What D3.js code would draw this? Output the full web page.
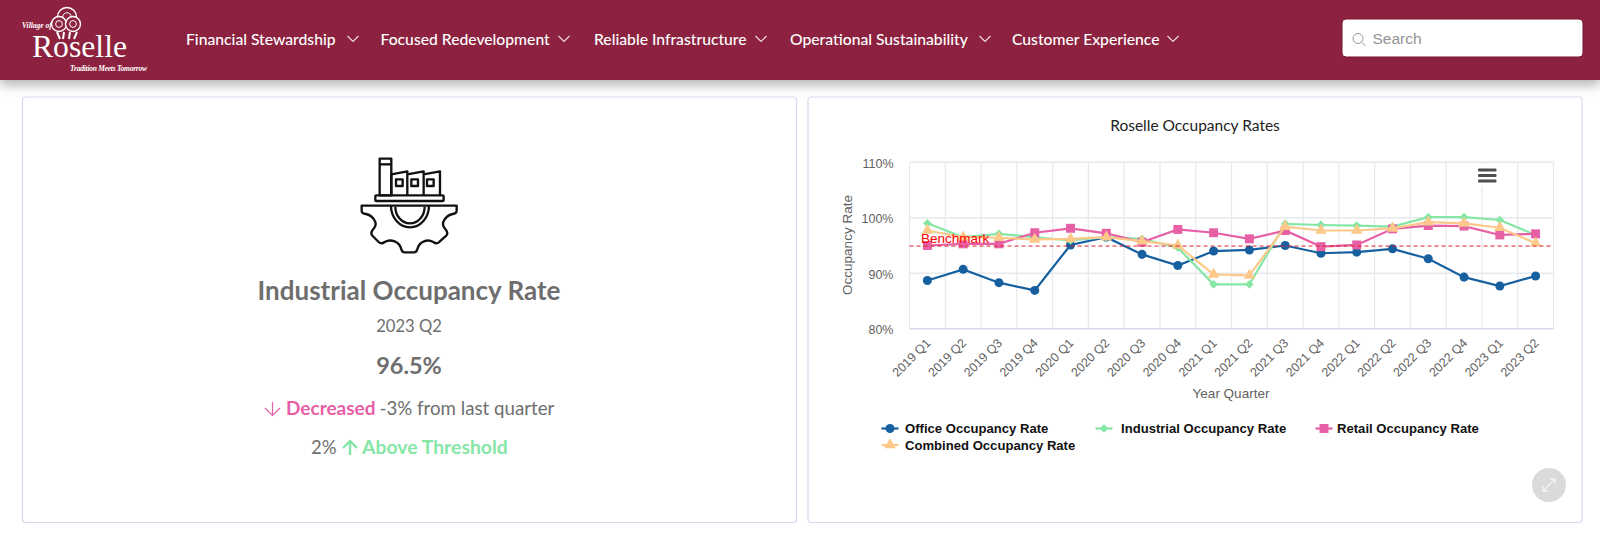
<!DOCTYPE html>
<html>
<head>
<meta charset="utf-8">
<script src="https://cdnjs.cloudflare.com/ajax/libs/d3/7.8.5/d3.min.js"></script>
<style>
  html, body { margin: 0; padding: 0; background: #fff; overflow: hidden; }
  svg { display: block; }
  .domain { display: none; }
</style>
</head>
<body>
<svg id="page" width="1600" height="535"></svg>
<script>
// chart data
const quarters = ["2019 Q1","2019 Q2","2019 Q3","2019 Q4","2020 Q1","2020 Q2","2020 Q3","2020 Q4","2021 Q1","2021 Q2","2021 Q3","2021 Q4","2022 Q1","2022 Q2","2022 Q3","2022 Q4","2023 Q1","2023 Q2"];
const office = [88.7,90.7,88.3,86.9,95.1,96.5,93.4,91.4,94.0,94.2,95.0,93.6,93.8,94.4,92.6,89.3,87.7,89.5];
const industrial = [99.0,96.5,97.1,96.5,95.9,96.5,96.2,94.6,88.0,88.0,98.9,98.7,98.6,98.4,100.1,100.1,99.6,96.9];
const retail = [95.0,95.3,95.3,97.3,98.1,97.2,95.6,97.9,97.3,96.2,97.7,94.8,95.1,98.0,98.6,98.5,96.9,97.1];
const combined = [97.7,96.5,96.4,96.1,96.2,96.5,95.8,95.0,89.8,89.6,98.4,97.7,97.7,98.1,99.2,99.0,98.2,95.4];
const benchmark = 94.9;
const yTicks = [80,90,100,110];
const seriesNames = ["Office Occupancy Rate","Industrial Occupancy Rate","Retail Occupancy Rate","Combined Occupancy Rate"];
const seriesColors = ["#17609f","#86e6a6","#e75fa5","#fdc98a"];
const navItems = ["Financial Stewardship","Focused Redevelopment","Reliable Infrastructure","Operational Sustainability","Customer Experience"];

const allSeries = [office, industrial, retail, combined];
const symbolTypes = [d3.symbolCircle, d3.symbolSquare, d3.symbolSquare, d3.symbolTriangle];
const symbolSizes = [64, 38, 80, 58];
const symbolTurn = [0, 45, 0, 0]; // the diamond is a turned square

const svg = d3.select("#page");
const uiFont = "Lato, 'Noto Sans', sans-serif";
const chartFont = "'Liberation Sans', Arial, sans-serif";
const grey = "#6e6e6e";

// header
const defs = svg.append("defs");
const shadow = defs.append("filter").attr("id","shadow").attr("x","-5%").attr("y","-20%").attr("width","110%").attr("height","160%");
shadow.append("feDropShadow").attr("dx",0).attr("dy",5).attr("stdDeviation",6).attr("flood-color","#000").attr("flood-opacity",0.3);

svg.append("rect").attr("x",0).attr("y",0).attr("width",1600).attr("height",80).attr("fill","#8c2341").attr("filter","url(#shadow)");

// logo
const logo = svg.append("g").attr("fill","#fff");
[[67,17,9.5],[59,24,7.5],[73,24,7.5]].forEach(c => {
  logo.append("circle").attr("cx",c[0]).attr("cy",c[1]).attr("r",c[2]).attr("fill","#8c2341").attr("stroke","#fff").attr("stroke-width",1.4);
  logo.append("circle").attr("cx",c[0]).attr("cy",c[1]).attr("r",c[2]*0.45).attr("fill","none").attr("stroke","#fff").attr("stroke-width",1);
});
logo.append("path").attr("d","M57,32 L60,39 M64,32 L63,39 M70,32 L69,39 M77,32 L74,39").attr("stroke","#fff").attr("stroke-width",2);
logo.append("text").attr("x",22).attr("y",28).attr("font-family","'Liberation Serif'").attr("font-style","italic").attr("font-weight","bold").attr("font-size",7.5).text("Village of");
logo.append("text").attr("x",32).attr("y",57).attr("font-family","'Liberation Serif'").attr("font-size",32).attr("textLength",95).attr("lengthAdjust","spacingAndGlyphs").text("Roselle");
logo.append("text").attr("x",70).attr("y",70.5).attr("font-family","'Liberation Serif'").attr("font-style","italic").attr("font-weight","bold").attr("font-size",7.5).attr("textLength",77).text("Tradition Meets Tomorrow");

// nav
const navX = [186,380.5,594,790,1012];
const chevX = [353,564,761,985,1173];
navItems.forEach((name,i) => {
  svg.append("text").attr("x",navX[i]).attr("y",44.5).attr("fill","#fff").attr("font-family",uiFont).attr("font-size",15.7).attr("font-weight",500).text(name);
  svg.append("path").attr("d",`M${chevX[i]-5.5},36 L${chevX[i]},41.5 L${chevX[i]+5.5},36`).attr("fill","none").attr("stroke","#f0dfe4").attr("stroke-width",1.1);
});

// search box
svg.append("rect").attr("x",1342).attr("y",19).attr("width",241).attr("height",38).attr("rx",4).attr("fill","#fff").attr("stroke","#7a1530").attr("stroke-width",1);
svg.append("circle").attr("cx",1358).attr("cy",38.5).attr("r",5).attr("fill","none").attr("stroke","#999");
svg.append("path").attr("d","M1362,42.5 L1365.5,46").attr("stroke","#999");
svg.append("text").attr("x",1372.5).attr("y",43.5).attr("fill","#949494").attr("font-family",chartFont).attr("font-size",15.5).text("Search");

// cards
[[22.5,774],[808,774]].forEach(c => {
  svg.append("rect").attr("x",c[0]).attr("y",97).attr("width",c[1]).attr("height",425.5).attr("rx",3).attr("fill","#fff").attr("stroke","#d5d9ee").attr("stroke-width",1.2);
});

// factory icon
const icon = svg.append("g").attr("transform","translate(230,140) scale(0.3333)").attr("fill","none").attr("stroke","#111").attr("stroke-width",7).attr("stroke-linejoin","round");
icon.append("rect").attr("x",449).attr("y",56).attr("width",35).attr("height",110);
icon.append("path").attr("d","M449,73 H484");
icon.append("path").attr("d","M484,166 V103 L532,94 V166 M532,103 L581,94 V166 M581,103 L630,94 V166");
[498,544,591].forEach(x => icon.append("rect").attr("x",x).attr("y",118).attr("width",20).attr("height",20));
icon.append("rect").attr("x",436).attr("y",166).attr("width",205).attr("height",17).attr("rx",3);
icon.append("path").attr("d","M395,197 H680 V212 Q680,220 668,222 Q648,226 640,246 Q636,258 648,270 Q656,280 648,288 L628,306 Q620,314 610,306 Q596,298 582,304 Q566,310 562,328 Q560,337 552,337 H524 Q516,337 514,328 Q510,310 494,304 Q478,298 464,306 Q454,314 446,306 L428,288 Q420,280 428,270 Q440,258 436,246 Q428,226 408,222 Q395,220 395,212 Z");
icon.append("path").attr("d","M483,197 A57,65 0 0 0 597,197 M496,200 A44,50 0 0 0 584,200");

// kpi text
const kpi = svg.append("g").attr("font-family",uiFont).attr("fill",grey);
kpi.append("text").attr("x",409).attr("y",300).attr("text-anchor","middle").attr("font-size",26).attr("font-weight",700).text("Industrial Occupancy Rate");
kpi.append("text").attr("x",409).attr("y",331.5).attr("text-anchor","middle").attr("font-size",16.6).text("2023 Q2");
kpi.append("text").attr("x",409).attr("y",374).attr("text-anchor","middle").attr("font-size",23.5).attr("font-weight",700).text("96.5%");
kpi.append("path").attr("d","M272.5,402 V415 M265,408 L272.5,415.5 L280,408").attr("fill","none").attr("stroke",seriesColors[2]).attr("stroke-width",1.2);
kpi.append("text").attr("x",286).attr("y",415).attr("font-size",19).attr("font-weight",700).attr("fill",seriesColors[2]).text("Decreased");
kpi.append("text").attr("x",379.5).attr("y",415).attr("font-size",18.7).text("-3% from last quarter");
kpi.append("text").attr("x",311).attr("y",454).attr("font-size",18.5).text("2%");
kpi.append("path").attr("d","M350,441 V455 M343,448 L350,441 L357,448").attr("fill","none").attr("stroke",seriesColors[1]).attr("stroke-width",2.4);
kpi.append("text").attr("x",362).attr("y",454).attr("font-size",19.4).attr("font-weight",700).attr("fill",seriesColors[1]).text("Above Threshold");

// chart
svg.append("text").attr("x",1195).attr("y",131).attr("text-anchor","middle").attr("font-family",uiFont).attr("font-size",15.5).attr("fill","#222").text("Roselle Occupancy Rates");

const x = d3.scaleBand().domain(quarters).range([909.5,1553.5]);
const y = d3.scaleLinear().domain([80,110]).range([328.7,162.3]);

const plot = svg.append("g");

// grid
plot.append("g").selectAll("line").data(yTicks).join("line")
  .attr("x1",x.range()[0]).attr("x2",x.range()[1])
  .attr("y1",d => y(d)).attr("y2",d => y(d))
  .attr("stroke",d => d == 80 ? "#d5d9ee" : "#e8e9ee").attr("stroke-width",1.4);
plot.append("g").selectAll("line").data(quarters.concat("end")).join("line")
  .attr("x1",(d,i) => x.range()[0] + i*x.bandwidth()).attr("x2",(d,i) => x.range()[0] + i*x.bandwidth())
  .attr("y1",y(110)).attr("y2",y(80))
  .attr("stroke","#e8e9ee").attr("stroke-width",1.2);

// axes
const yAxis = plot.append("g").attr("transform",`translate(${x.range()[0]},1)`)
  .call(d3.axisLeft(y).tickValues(yTicks).tickFormat(d => d + "%").tickSize(0).tickPadding(16));
yAxis.selectAll("text").attr("font-family",chartFont).attr("font-size",12.5).attr("fill","#5f5f5f");

const xAxis = plot.append("g").attr("transform",`translate(0,${y(80)})`)
  .call(d3.axisBottom(x).tickSize(0).tickPadding(0));
xAxis.selectAll("text")
  .attr("font-family",chartFont).attr("font-size",12.5).attr("fill","#5f5f5f")
  .attr("text-anchor","end").attr("dy",0).attr("y",0)
  .attr("transform","translate(4,15) rotate(-45)");

plot.append("text").attr("x",1231).attr("y",398).attr("text-anchor","middle").attr("font-family",chartFont).attr("font-size",13.5).attr("fill","#5f5f5f").text("Year Quarter");
plot.append("text").attr("transform","translate(852,245) rotate(-90)").attr("text-anchor","middle").attr("font-family",chartFont).attr("font-size",13.5).attr("fill","#5f5f5f").text("Occupancy Rate");

// series
const line = d3.line().x((d,i) => x(quarters[i]) + x.bandwidth()/2).y(d => y(d));
allSeries.forEach((values,s) => {
  const g = plot.append("g");
  g.append("path").datum(values).attr("d",line).attr("fill","none").attr("stroke",seriesColors[s]).attr("stroke-width",2.2);
  g.selectAll("path.pt").data(values).join("path").attr("class","pt")
    .attr("d",d3.symbol().type(symbolTypes[s]).size(symbolSizes[s]))
    .attr("transform",(d,i) => `translate(${x(quarters[i]) + x.bandwidth()/2},${y(d)}) rotate(${symbolTurn[s]})`)
    .attr("fill",seriesColors[s]);
});

// benchmark
plot.append("line").attr("x1",x.range()[0]).attr("x2",x.range()[1]).attr("y1",y(benchmark)).attr("y2",y(benchmark))
  .attr("stroke","#e0202e").attr("stroke-width",1).attr("stroke-dasharray","4,3");
plot.append("text").attr("x",921).attr("y",243).attr("font-family",chartFont).attr("font-size",13.5).attr("fill","#ff0000").text("Benchmark");

// menu icon
svg.append("rect").attr("x",1470).attr("y",164).attr("width",36).attr("height",23).attr("fill","#fff");
[170,175.5,181].forEach(v => svg.append("rect").attr("x",1478).attr("y",v-1.5).attr("width",18.5).attr("height",3).attr("rx",1).attr("fill","#4f4f4f"));

// legend
const legendPos = [[890,428.5],[1104,428.5],[1324,428.5],[890,445]];
const legendText = [15,17,13,15];
const legend = svg.append("g").selectAll("g").data(seriesNames).join("g")
  .attr("transform",(d,i) => `translate(${legendPos[i][0]},${legendPos[i][1]})`);
legend.append("line").attr("x1",-8.5).attr("x2",8.5).attr("stroke",(d,i) => seriesColors[i]).attr("stroke-width",2.2);
legend.append("path").attr("d",(d,i) => d3.symbol().type(symbolTypes[i]).size(symbolSizes[i])())
  .attr("transform",(d,i) => `rotate(${symbolTurn[i]})`).attr("fill",(d,i) => seriesColors[i]);
legend.append("text").attr("x",(d,i) => legendText[i]).attr("y",4.5).attr("font-family",chartFont).attr("font-size",13.1).attr("font-weight",700).attr("fill","#111").text(d => d);

// expand button
svg.append("circle").attr("cx",1549).attr("cy",485).attr("r",17).attr("fill","#dadada");
svg.append("path").attr("d","M1543,491 L1555,479 M1543,486 V491 H1548 M1550,479 H1555 V484").attr("fill","none").attr("stroke","#f3f3f3").attr("stroke-width",1.4);
</script>
</body>
</html>
